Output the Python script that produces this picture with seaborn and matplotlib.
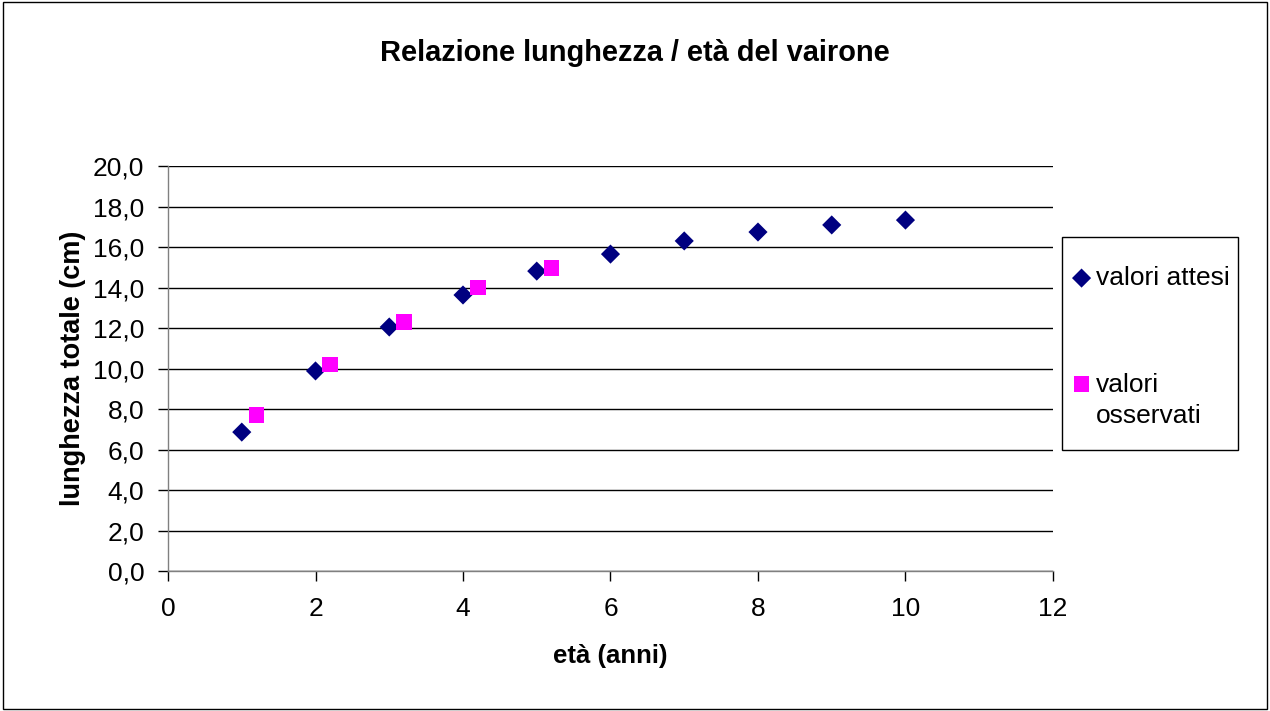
import numpy as np
import pandas as pd
import matplotlib.pyplot as plt
import seaborn as sns
from matplotlib.ticker import FuncFormatter
from matplotlib.legend_handler import HandlerPathCollection

eta_attesi = [1, 2, 3, 4, 5, 6, 7, 8, 9, 10]
lung_attesi = [6.86, 9.88, 12.05, 13.63, 14.81, 15.65, 16.30, 16.74, 17.09, 17.33]
eta_osservati = [1.2, 2.2, 3.2, 4.2, 5.2]
lung_osservati = [7.70, 10.20, 12.30, 14.00, 14.98]

sns.set_style("white")
plt.rcParams['font.family'] = ['Liberation Sans', 'DejaVu Sans']

df_a = pd.DataFrame({"eta": eta_attesi, "lung": lung_attesi})
df_o = pd.DataFrame({"eta": eta_osservati, "lung": lung_osservati})

fig = plt.figure(figsize=(12.7, 7.11), dpi=100)
ax = fig.add_axes([0.1323, 0.1969, 0.8291 - 0.1323, 0.7665 - 0.1969])

sns.scatterplot(data=df_a, x="eta", y="lung", marker="D", s=95, color="#000080",
                edgecolor="none", ax=ax, zorder=3)
sns.scatterplot(data=df_o, x="eta", y="lung", marker="s", s=130, color="#FF00FF",
                edgecolor="none", ax=ax, zorder=3)
h_att, h_oss = ax.collections[0], ax.collections[1]

ax.set_xlim(0, 12)
ax.set_ylim(0, 20)
ax.set_xticks(range(0, 13, 2))
ax.set_yticks(np.arange(0, 21, 2))
ax.yaxis.set_major_formatter(FuncFormatter(lambda v, p: "{:.1f}".format(v).replace(".", ",")))
ax.grid(axis="y", color="black", linewidth=1)
ax.set_axisbelow(True)
sns.despine(ax=ax, top=True, right=True)
for sp in ["left", "bottom"]:
    ax.spines[sp].set_color("#808080")
    ax.spines[sp].set_linewidth(1)
ax.tick_params(axis="both", direction="out", length=7, width=1, color="black",
               labelsize=19, labelcolor="black", bottom=True, left=True)
ax.tick_params(axis="y", pad=10)
ax.tick_params(axis="x", pad=12)

ax.set_xlabel("età (anni)", fontsize=18.5, fontweight="bold", labelpad=16, color="black")
ax.set_ylabel("lunghezza totale (cm)", fontsize=19.5, fontweight="bold", labelpad=5, color="black")
fig.text(0.5, 0.925, "Relazione lunghezza / età del vairone", ha="center", va="center",
         fontsize=20.9, fontweight="bold", color="black")

# legend: frameless, box drawn separately to get the Excel-like padding
leg = ax.legend([h_att, h_oss], ["valori attesi", "valori\nosservati"],
                handler_map={h_oss: HandlerPathCollection(yoffsets=[1.4])},
                loc="upper left", bbox_to_anchor=(1071 / 1270, 1 - 266 / 711),
                bbox_transform=fig.transFigure, frameon=False,
                fontsize=19, labelspacing=3.15, handletextpad=0.15, handlelength=0.8,
                borderpad=0, borderaxespad=0, markerscale=1.0)
for t in leg.get_texts():
    t.set_color("black")
    t.set_linespacing(1.35)

fig.patches.append(plt.Rectangle((1062 / 1270, 1 - 450 / 711), 176 / 1270, 213 / 711,
                                 transform=fig.transFigure, fill=False,
                                 edgecolor="black", linewidth=1))
fig.patches.append(plt.Rectangle((0.002, 0.003), 0.996, 0.994, transform=fig.transFigure,
                                 fill=False, edgecolor="black", linewidth=1))

fig.savefig("out.png", dpi=100)
